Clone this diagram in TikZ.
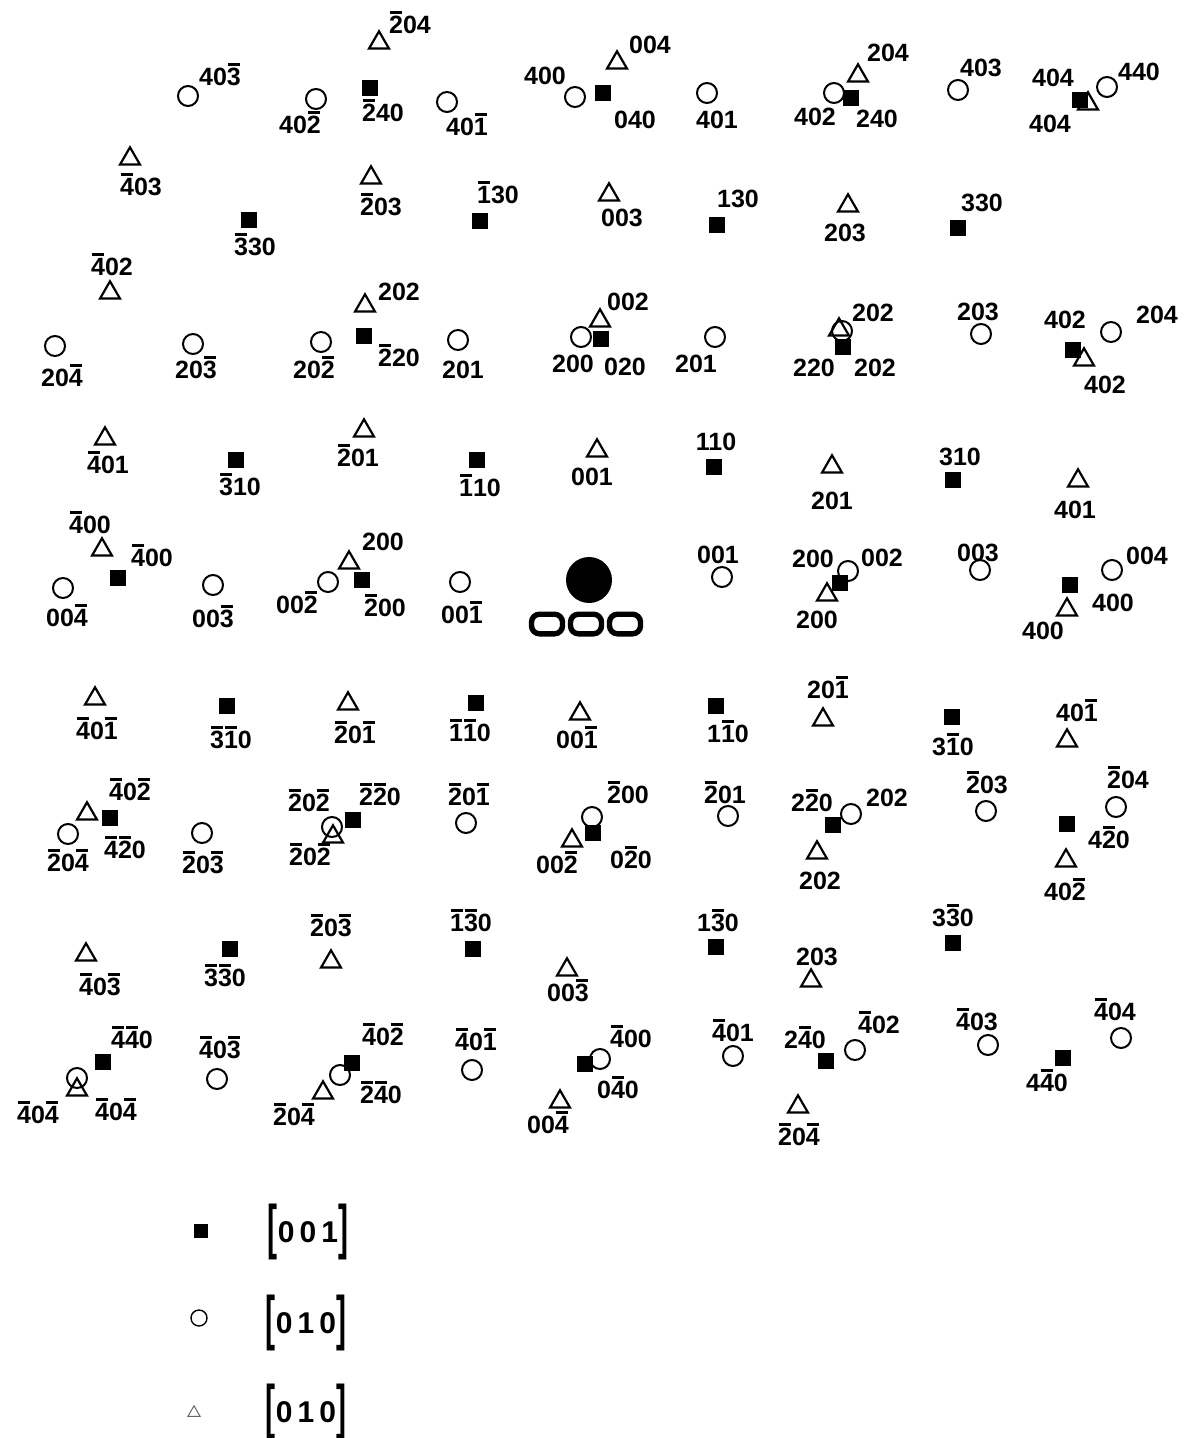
\documentclass[tikz,border=0pt]{standalone}
\usepackage{fontspec}
\setmainfont{Liberation Sans}
\usetikzlibrary{shapes.geometric}
\newcommand\bn[1]{\ooalign{#1\cr\hidewidth\rule[10pt]{5.8pt}{1.3pt}\hidewidth\cr}}
\newcommand\kbr[1]{\raisebox{-0.17em}{\scalebox{1}[2]{#1}}}

\begin{document}
\begin{tikzpicture}[
    x=0.5pt, y=-0.5pt,
    spot/.style={rectangle, fill=black, minimum size=8pt, inner sep=0pt},
    ring/.style={circle, draw, line width=1pt, minimum size=10pt, inner sep=0pt},
    tri/.style={regular polygon, regular polygon sides=3, draw, line width=1.1pt, minimum size=11.5pt, inner sep=0pt, yshift=-1.4pt},
    hkl/.style={font=\fontsize{12.5}{12.5}\selectfont\bfseries, inner sep=0pt},
    beam/.style={rectangle, draw, line width=2.7pt, rounded corners=4pt, minimum width=15.5pt, minimum height=9.8pt, inner sep=0pt},
    key/.style={font=\fontsize{15}{16}\selectfont\bfseries, inner sep=0pt}
]
\useasboundingbox[fill=white] (0,0) rectangle (1198,1438);

% direct beam
\node[circle, fill=black, minimum size=23pt, inner sep=0pt] (ctr) at (589,580) {};
\node[beam] (bm1) at (547,624) {};
\node[beam] (bm2) at (586,624) {};
\node[beam] (bm3) at (625,624) {};

% [001] zone spots
\foreach \x/\y [count=\i] in {370/88, 603/93, 851/98, 1080/100, 249/220, 480/221, 717/225, 958/228,
    364/336, 601/339, 843/347, 1073/350, 236/460, 477/460, 714/467, 953/480,
    118/578, 362/580, 840/583, 1070/585, 227/706, 476/703, 716/706, 952/717,
    110/818, 353/820, 593/833, 833/825, 1067/824, 230/949, 473/949, 716/947, 953/943,
    103/1062, 352/1063, 585/1064, 826/1061, 1063/1058}
    \node[spot] (s\i) at (\x,\y) {};

% [010] zone spots (circles)
\foreach \x/\y [count=\i] in {188/96, 316/99, 447/102, 575/97, 707/93, 834/93, 958/90, 1107/87,
    55/346, 193/344, 321/342, 458/340, 581/337, 715/337, 842/331, 981/334, 1111/332,
    63/588, 213/585, 328/582, 460/582, 722/577, 848/571, 980/570, 1112/570,
    68/834, 202/833, 332/827, 466/823, 592/817, 728/816, 851/814, 986/811, 1116/807,
    77/1078, 217/1079, 340/1075, 472/1070, 600/1059, 733/1056, 855/1050, 988/1045, 1121/1038}
    \node[ring] (c\i) at (\x,\y) {};

% [010] zone spots (triangles)
\foreach \x/\y [count=\i] in {379/40, 617/60, 858/73, 1088/101, 130/156, 371/175, 609/192, 848/203,
    110/290, 365/303, 600/318, 839/327, 1084/357, 105/436, 364/428, 597/448, 832/464, 1078/478,
    102/547, 349/560, 827/592, 1067/607, 95/696, 348/701, 580/711, 823/717, 1067/738,
    87/811, 333/834, 572/838, 817/850, 1066/858, 86/952, 331/959, 567/967, 811/978,
    77/1087, 323/1090, 560/1099, 798/1104}
    \node[tri] (t\i) at (\x,\y) {};

% indices
\foreach \x/\y/\t [count=\i] in {
    410/25/{\bn{2}04}, 220/77/{40\bn{3}}, 300/125/{40\bn{2}}, 383/113/{\bn{2}40},
    467/127/{40\bn{1}}, 650/45/{004}, 545/76/{400}, 635/120/{040}, 717/120/{401},
    888/53/{204}, 815/117/{402}, 877/119/{240}, 981/68/{403}, 1053/78/{404},
    1050/124/{404}, 1139/72/{440},
    141/187/{\bn{4}03}, 255/247/{\bn{3}30}, 381/207/{\bn{2}03}, 498/195/{\bn{1}30},
    622/218/{003}, 738/199/{130}, 845/233/{203}, 982/203/{330},
    112/267/{\bn{4}02}, 399/292/{202}, 62/378/{20\bn{4}}, 196/370/{20\bn{3}},
    314/370/{20\bn{2}}, 399/358/{\bn{2}20}, 463/370/{201}, 628/302/{002},
    573/364/{200}, 625/367/{020}, 696/364/{201}, 873/313/{202}, 814/368/{220},
    875/368/{202}, 978/312/{203}, 1065/320/{402}, 1105/385/{402}, 1157/315/{204},
    108/465/{\bn{4}01}, 240/487/{\bn{3}10}, 358/458/{\bn{2}01}, 480/488/{\bn{1}10},
    592/477/{001}, 716/442/{110}, 832/501/{201}, 960/457/{310}, 1075/510/{401},
    90/525/{\bn{4}00}, 152/558/{\bn{4}00}, 67/618/{00\bn{4}}, 213/619/{00\bn{3}},
    297/605/{00\bn{2}}, 383/542/{200}, 385/608/{\bn{2}00}, 462/615/{00\bn{1}},
    718/555/{001}, 813/559/{200}, 882/558/{002}, 817/620/{200}, 978/553/{003},
    1113/603/{400}, 1043/631/{400}, 1147/556/{004},
    97/731/{\bn{4}0\bn{1}}, 231/740/{\bn{3}\bn{1}0}, 355/735/{\bn{2}0\bn{1}},
    470/733/{\bn{1}\bn{1}0}, 577/740/{00\bn{1}}, 728/734/{1\bn{1}0}, 828/690/{20\bn{1}},
    953/747/{3\bn{1}0}, 1077/713/{40\bn{1}},
    130/792/{\bn{4}0\bn{2}}, 68/863/{\bn{2}0\bn{4}}, 125/850/{\bn{4}\bn{2}0},
    203/865/{\bn{2}0\bn{3}}, 309/803/{\bn{2}0\bn{2}}, 380/797/{\bn{2}\bn{2}0},
    310/857/{\bn{2}0\bn{2}}, 469/797/{\bn{2}0\bn{1}}, 628/795/{\bn{2}00},
    557/865/{00\bn{2}}, 631/860/{0\bn{2}0}, 725/795/{\bn{2}01}, 812/803/{2\bn{2}0},
    887/798/{202}, 820/881/{202}, 987/785/{\bn{2}03}, 1109/840/{4\bn{2}0},
    1128/780/{\bn{2}04}, 1065/892/{40\bn{2}},
    100/987/{\bn{4}0\bn{3}}, 225/978/{\bn{3}\bn{3}0}, 331/928/{\bn{2}0\bn{3}},
    471/923/{\bn{1}\bn{3}0}, 568/993/{00\bn{3}}, 718/923/{1\bn{3}0}, 817/957/{203},
    953/918/{3\bn{3}0},
    132/1040/{\bn{4}\bn{4}0}, 38/1115/{\bn{4}0\bn{4}}, 116/1112/{\bn{4}0\bn{4}},
    220/1050/{\bn{4}0\bn{3}}, 383/1037/{\bn{4}0\bn{2}}, 381/1095/{\bn{2}\bn{4}0},
    294/1117/{\bn{2}0\bn{4}}, 476/1042/{\bn{4}0\bn{1}}, 631/1039/{\bn{4}00},
    618/1090/{0\bn{4}0}, 548/1125/{00\bn{4}}, 733/1033/{\bn{4}01}, 805/1040/{2\bn{4}0},
    879/1025/{\bn{4}02}, 799/1137/{\bn{2}0\bn{4}}, 977/1022/{\bn{4}03},
    1047/1083/{4\bn{4}0}, 1115/1012/{\bn{4}04}}
    \node[hkl] (l\i) at (\x,\y) {\t};

% legend
\node[spot, minimum size=7pt] (k1) at (201,1231) {};
\node[ring, minimum size=8pt, line width=0.7pt] (k2) at (199,1318) {};
\node[tri, minimum size=7pt, line width=0.5pt, draw=black!60] (k3) at (194,1410) {};
\node[key] (kl1) at (308,1232) {\kbr{[}0\,0\,1\kbr{]}};
\node[key] (kl2) at (306,1323) {\kbr{[}0\,1\,0\kbr{]}};
\node[key] (kl3) at (306,1412) {\kbr{[}0\,1\,0\kbr{]}};
\end{tikzpicture}
\end{document}
